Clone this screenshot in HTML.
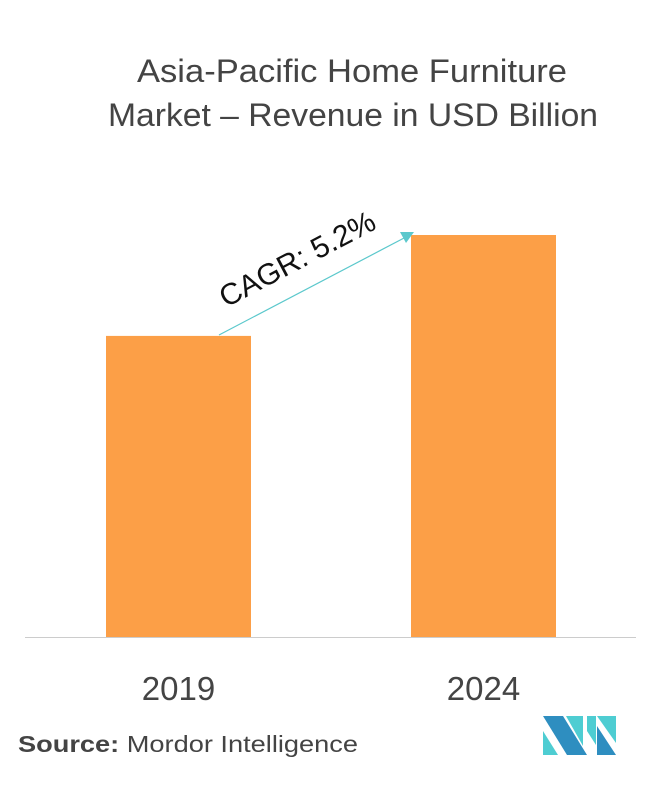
<!DOCTYPE html>
<html><head><meta charset="utf-8"><style>
body{margin:0;background:#fff;font-family:"Liberation Sans",sans-serif;}
</style></head><body>
<svg width="659" height="780" xmlns="http://www.w3.org/2000/svg">
<text x="137" y="82" textLength="430" lengthAdjust="spacingAndGlyphs" font-size="32" fill="#444" font-family="Liberation Sans, sans-serif">Asia-Pacific Home Furniture</text>
<text x="108" y="126" textLength="490" lengthAdjust="spacingAndGlyphs" font-size="32" fill="#444" font-family="Liberation Sans, sans-serif">Market – Revenue in USD Billion</text>
<g id="bars"></g>
<line x1="25" y1="637.5" x2="636" y2="637.5" stroke="#ccc" stroke-width="1"/>
<line x1="219" y1="335" x2="406" y2="237" stroke="#5bc8cc" stroke-width="1.2"/>
<polygon points="414,232 400,232 406,243" fill="#5bc8cc"/>
<text transform="translate(302,268) rotate(-27.7)" text-anchor="middle" font-size="30" fill="#111">CAGR: 5.2%</text>
<text x="18" y="752" font-size="23" textLength="340" lengthAdjust="spacingAndGlyphs" fill="#444"><tspan font-weight="bold">Source:</tspan> Mordor Intelligence</text>
<g>
<polygon points="543,716 563,716 587,755 567,755" fill="#2e8ec0"/>
<polygon points="543,731 558,755 543,755" fill="#4ecdd2"/>
<polygon points="566,716 583,716 583,746" fill="#4ecdd2"/>
<polygon points="596,716 596,745 587,731 587,716" fill="#4ecdd2"/>
<polygon points="597,716 616,716 616,743" fill="#4ecdd2"/>
<polygon points="597,726 616,755 597,755" fill="#2e8ec0"/>
</g>
</svg>
<script>
const categories=["2019","2024"];
const values=[74.9,100];
const baseY=637, plotH=402, maxV=100;
const xLeft=[106,411], barW=145;
function yScale(v){return baseY - v/maxV*plotH;}
const g=document.getElementById('bars');
const NS="http://www.w3.org/2000/svg";
categories.forEach((c,i)=>{
 const r=document.createElementNS(NS,'rect');
 
 
 r.setAttribute('x',xLeft[i]);r.setAttribute('width',barW);
 r.setAttribute('y',yScale(values[i]));r.setAttribute('height',baseY-yScale(values[i]));
 r.setAttribute('fill','#fc9f47');g.appendChild(r);
 const t=document.createElementNS(NS,'text');
 
 
 t.setAttribute('x',xLeft[i]+barW/2);t.setAttribute('y',700);
 t.setAttribute('text-anchor','middle');t.setAttribute('font-size','33');t.setAttribute('fill','#444');
 t.textContent=c;g.appendChild(t);
});
</script>
</body></html>
